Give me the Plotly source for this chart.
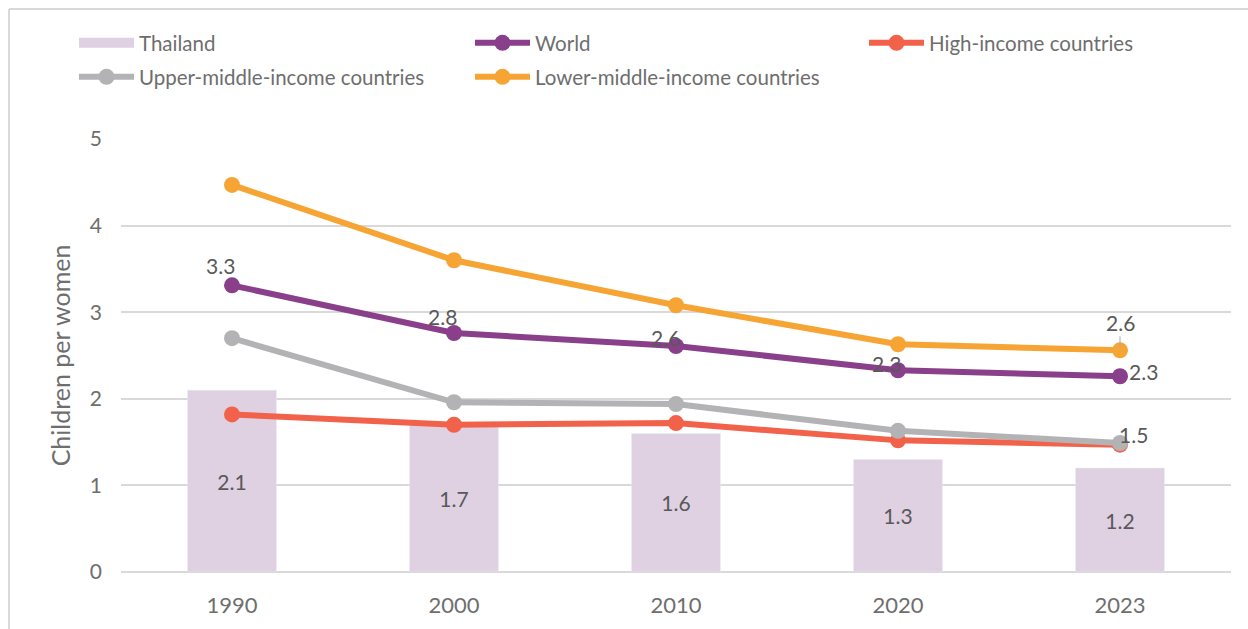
import plotly.graph_objects as go

# Total fertility rate (children per woman)
years = ["1990", "2000", "2010", "2020", "2023"]
thailand = [2.1, 1.7, 1.6, 1.3, 1.2]
world = [3.31, 2.76, 2.61, 2.33, 2.26]
high_income = [1.82, 1.70, 1.72, 1.52, 1.47]
upper_middle = [2.70, 1.96, 1.94, 1.63, 1.49]
lower_middle = [4.47, 3.60, 3.08, 2.63, 2.56]

y_ticks = [0, 1, 2, 3, 4, 5]

COL_BAR = "#dfd0e2"
COL_WORLD = "#8a3f8b"
COL_HIGH = "#f2624a"
COL_UPPER = "#b3b3b6"
COL_LOWER = "#f6a535"
TXT = "#6e6e6e"
LBL = "#595959"
FONT = "Lato"

W, H = 1248, 629
L, R, T, B = 121, 17, 139, 57
PW, PH = W - L - R, H - T - B


def px_x(px):
    return (px - L) / PW


def px_y(py):
    return (H - B - py) / PH


fig = go.Figure()

fig.add_trace(go.Bar(
    x=years, y=thailand, name="Thailand", marker_color=COL_BAR, width=0.4,
    text=[f"{v:.1f}" for v in thailand], textposition="inside",
    insidetextanchor="middle", textangle=0,
    textfont=dict(family=FONT, size=21, color=LBL),
    showlegend=False,
))
# Legend swatch for the bars: a wide flat block like the chart's bar key
fig.add_trace(go.Scatter(
    x=[None], y=[None], name="Thailand", mode="lines",
    line=dict(color=COL_BAR, width=12), legend="legend",
))

line_series = [
    ("World", world, COL_WORLD, "legend"),
    ("High-income countries", high_income, COL_HIGH, "legend3"),
    ("Upper-middle-income countries", upper_middle, COL_UPPER, "legend2"),
    ("Lower-middle-income countries", lower_middle, COL_LOWER, "legend2"),
]
for name, vals, col, lg in line_series:
    fig.add_trace(go.Scatter(
        x=years, y=vals, name=name, mode="lines+markers",
        line=dict(color=col, width=6), marker=dict(color=col, size=16),
        legend=lg,
    ))

# Data labels on the line series (category axis: annotations use the index)
lbl_font = dict(family=FONT, size=21, color=LBL)
annotations = []
world_offsets = [(-12, 20), (-12, 16), (-11, 8), (-12, 7), (23, 5)]
for i, (v, (dx, dy)) in enumerate(zip(world, world_offsets)):
    annotations.append(dict(x=i, y=v, text=f"{v:.1f}", showarrow=False,
                            xshift=dx, yshift=dy, font=lbl_font))
last = len(years) - 1
annotations.append(dict(x=last, y=upper_middle[last], text=f"{upper_middle[last]:.1f}",
                        showarrow=False, xshift=13, yshift=8, font=lbl_font))
annotations.append(dict(x=last, y=lower_middle[last], text=f"{lower_middle[last]:.1f}",
                        showarrow=True, ax=0, ay=-28, arrowhead=0, arrowwidth=1,
                        arrowcolor="#a6a6a6", standoff=2, font=lbl_font))

# Outer chart frame (top and left edges)
shapes = [
    dict(type="line", xref="paper", yref="paper", x0=px_x(9), x1=px_x(1260),
         y0=px_y(9), y1=px_y(9), line=dict(color="#d9d9d9", width=2)),
    dict(type="line", xref="paper", yref="paper", x0=px_x(9), x1=px_x(9),
         y0=px_y(9), y1=px_y(640), line=dict(color="#d9d9d9", width=2)),
]

legend_common = dict(
    orientation="h", xanchor="left", yanchor="middle",
    font=dict(family=FONT, size=20.5, color=TXT),
    bgcolor="rgba(0,0,0,0)", itemwidth=55,
    tracegroupgap=0, itemclick=False,
)

fig.update_layout(
    width=W, height=H,
    margin=dict(l=L, r=R, t=T, b=B, autoexpand=False),
    paper_bgcolor="white", plot_bgcolor="white",
    font=dict(family=FONT, color=TXT),
    showlegend=True,
    legend=dict(x=px_x(74), y=px_y(43), entrywidth=326, **legend_common),
    legend3=dict(x=px_x(864), y=px_y(43), entrywidth=220, **legend_common),
    legend2=dict(x=px_x(74), y=px_y(77), entrywidth=326, **legend_common),
    xaxis=dict(type="category", range=[-0.5, len(years) - 0.5],
               showgrid=False, showline=False, ticks="",
               ticklabelstandoff=18,
               tickfont=dict(family=FONT, size=22, color=TXT)),
    yaxis=dict(range=[0, 5], tickvals=y_ticks, showgrid=True,
               gridcolor="#d9d9d9", gridwidth=2, zeroline=True,
               zerolinecolor="#d9d9d9", zerolinewidth=2, showline=False,
               ticks="", ticklabelstandoff=18,
               tickfont=dict(family=FONT, size=21, color=TXT),
               title=dict(text="Children per women", standoff=12,
                          font=dict(family=FONT, size=25, color=TXT))),
    bargap=0.6,
    annotations=annotations,
    shapes=shapes,
)

fig.write_html("out.html")
